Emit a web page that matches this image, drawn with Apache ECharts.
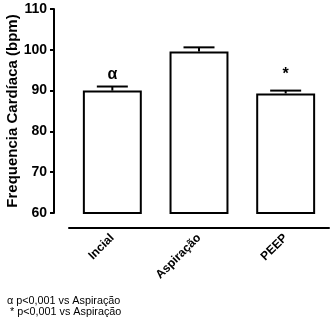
<!DOCTYPE html>
<html>
<head>
<meta charset="utf-8">
<script src="https://cdn.jsdelivr.net/npm/echarts@6/dist/echarts.min.js"></script>
<style>
  html, body { margin: 0; padding: 0; background: #fff; }
  #chart { width: 331px; height: 323px; }
</style>
</head>
<body>
<div id="chart"></div>
<script>
// Heart rate per phase: mean and SEM (bpm)
var categories = ['Incial', 'Aspiração', 'PEEP'];
var meanValues = [90.0, 99.6, 89.3];
var semValues = [1.0, 1.0, 0.7];
var sigMarks = ['α', '', '*'];
var yTicks = [60, 70, 80, 90, 100, 110];
var footnotes = ['α p<0,001 vs Aspiração', ' * p<0,001 vs Aspiração'];

var FONT = '"Liberation Sans", Arial, sans-serif';
var chart = echarts.init(document.getElementById('chart'), null, { renderer: 'canvas' });

var errorData = categories.map(function (c, i) {
  return [i, meanValues[i], meanValues[i] + semValues[i], sigMarks[i]];
});

chart.setOption({
  animation: false,
  backgroundColor: '#fff',
  grid: { left: 69, right: 2, top: 9, bottom: 110, containLabel: false, outerBoundsMode: 'none' },
  xAxis: {
    type: 'category',
    data: categories,
    offset: 15,
    axisLine: { lineStyle: { color: '#000', width: 2 } },
    axisTick: { alignWithLabel: true, length: 5, lineStyle: { color: '#000', width: 2 } },
    axisLabel: {
      rotate: 45, margin: 8, color: '#000',
      fontFamily: FONT, fontWeight: 'bold', fontSize: 12
    }
  },
  yAxis: {
    type: 'value',
    min: yTicks[0], max: yTicks[yTicks.length - 1], interval: 10,
    offset: 15,
    name: 'Frequencia Cardíaca (bpm)',
    nameLocation: 'middle',
    nameGap: 34,
    nameMoveOverlap: false,
    nameTextStyle: { color: '#000', fontFamily: FONT, fontWeight: 'bold', fontSize: 15 },
    axisLine: { show: true, lineStyle: { color: '#000', width: 2 } },
    axisTick: { show: true, length: 4, lineStyle: { color: '#000', width: 2 } },
    axisLabel: { margin: 7, color: '#000', fontFamily: FONT, fontWeight: 'bold', fontSize: 14 },
    splitLine: { show: false }
  },
  series: [
    {
      type: 'bar',
      data: meanValues,
      barCategoryGap: '32%',
      itemStyle: { color: '#fff', borderColor: '#000', borderWidth: 2 }
    },
    {
      type: 'custom',
      data: errorData,
      z: 5,
      renderItem: function (params, api) {
        var x = api.value(0);
        var base = api.coord([x, api.value(1)]);
        var top = api.coord([x, api.value(2)]);
        var half = 15.5;
        var children = [
          { type: 'line', shape: { x1: base[0], y1: base[1], x2: top[0], y2: top[1] },
            style: { stroke: '#000', lineWidth: 2 } },
          { type: 'line', shape: { x1: top[0] - half, y1: top[1], x2: top[0] + half, y2: top[1] },
            style: { stroke: '#000', lineWidth: 2 } }
        ];
        var mark = api.value(3);
        if (mark) {
          var m = api.coord([x, 94]);
          children.push({
            type: 'text',
            style: {
              x: m[0], y: m[1], text: mark, align: 'center', verticalAlign: 'middle',
              fill: '#000', font: 'bold 16px ' + FONT
            }
          });
        }
        return { type: 'group', children: children };
      }
    }
  ],
  graphic: [
    { type: 'text', left: 7, top: 296,
      style: { text: footnotes[0], fill: '#000', font: '10.8px ' + FONT } },
    { type: 'text', left: 7, top: 307,
      style: { text: footnotes[1], fill: '#000', font: '10.8px ' + FONT } }
  ]
});
</script>
</body>
</html>
